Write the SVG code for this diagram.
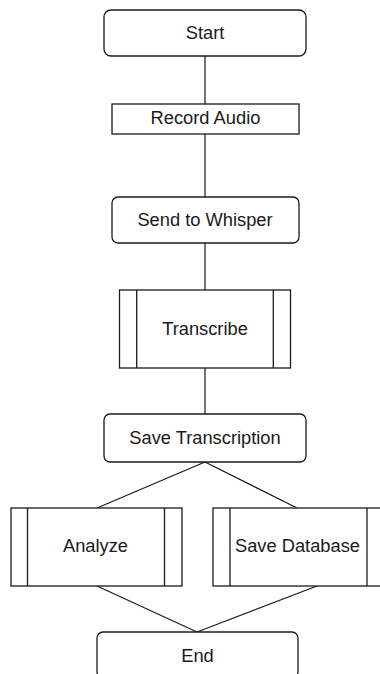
<svg xmlns="http://www.w3.org/2000/svg" width="380" height="674" viewBox="0 0 380 674">
  <style>
    .box { fill: #ffffff; stroke: #1a1a1a; stroke-width: 1.3; }
    .bar { stroke: #1a1a1a; stroke-width: 1.3; }
    .link { stroke: #1a1a1a; stroke-width: 1.2; fill: none; }
    .label { font-family: "Liberation Sans", Arial, sans-serif; font-size: 18.3px; fill: #1a1a1a; text-anchor: middle; }
  </style>
  <rect width="380" height="674" fill="#ffffff"/>

  <g id="connectors">
    <line class="link" x1="205" y1="56" x2="205" y2="104"/>
    <line class="link" x1="205" y1="134" x2="205" y2="197"/>
    <line class="link" x1="205" y1="243" x2="205" y2="290"/>
    <line class="link" x1="205" y1="368" x2="205" y2="414"/>
    <line class="link" x1="205" y1="462" x2="97" y2="508"/>
    <line class="link" x1="205" y1="462" x2="297" y2="508"/>
    <line class="link" x1="97" y1="586" x2="197" y2="632"/>
    <line class="link" x1="317" y1="586" x2="197" y2="632"/>
  </g>

  <g id="start">
    <rect class="box" x="104" y="10" width="202" height="46" rx="7"/>
    <text class="label" x="205" y="39.3">Start</text>
  </g>

  <g id="record-audio">
    <rect class="box" x="112" y="104" width="187" height="30"/>
    <text class="label" x="205.5" y="124.3">Record Audio</text>
  </g>

  <g id="send-to-whisper">
    <rect class="box" x="112" y="197" width="187" height="46" rx="6"/>
    <text class="label" x="205" y="225.5">Send to Whisper</text>
  </g>

  <g id="transcribe">
    <rect class="box" x="119.5" y="290" width="171" height="78"/>
    <line class="bar" x1="136.7" y1="290" x2="136.7" y2="368"/>
    <line class="bar" x1="273.3" y1="290" x2="273.3" y2="368"/>
    <text class="label" x="205" y="335">Transcribe</text>
  </g>

  <g id="save-transcription">
    <rect class="box" x="104" y="414" width="202" height="48" rx="6"/>
    <text class="label" x="205" y="444">Save Transcription</text>
  </g>

  <g id="analyze">
    <rect class="box" x="11" y="508" width="171" height="78"/>
    <line class="bar" x1="27.5" y1="508" x2="27.5" y2="586"/>
    <line class="bar" x1="164.5" y1="508" x2="164.5" y2="586"/>
    <text class="label" x="95.5" y="552">Analyze</text>
  </g>

  <g id="save-database">
    <rect class="box" x="213" y="508" width="171" height="78"/>
    <line class="bar" x1="230" y1="508" x2="230" y2="586"/>
    <line class="bar" x1="367" y1="508" x2="367" y2="586"/>
    <text class="label" x="297.5" y="552">Save Database</text>
  </g>

  <g id="end">
    <rect class="box" x="97" y="632" width="201" height="46" rx="6"/>
    <text class="label" x="197.5" y="661.5">End</text>
  </g>
</svg>
